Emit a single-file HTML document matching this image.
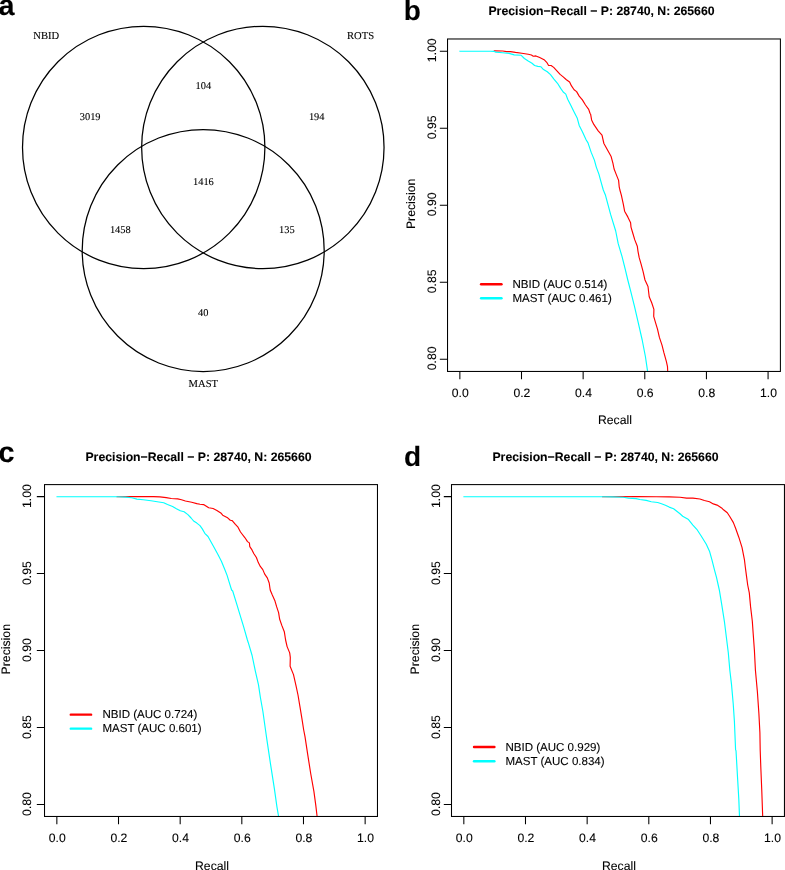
<!DOCTYPE html>
<html lang="en">
<head>
<meta charset="utf-8">
<title>Figure</title>
<style>
html,body{margin:0;padding:0;background:#fff;}
body{width:785px;height:870px;overflow:hidden;}
svg{display:block;}
text{white-space:pre;text-rendering:geometricPrecision;stroke:#000;stroke-width:0.1px;stroke-linejoin:round;}
</style>
</head>
<body>
<svg width="785" height="870" viewBox="0 0 785 870">
<rect width="785" height="870" fill="#fff"/>
<g id="venn" fill="none" stroke="#000" stroke-width="1.25">
<circle cx="143.7" cy="147.45" r="121.2"/>
<circle cx="262.85" cy="147.45" r="121.2"/>
<circle cx="203.2" cy="250.5" r="121.0"/>
</g>
<g id="venn-labels" font-family="'Liberation Serif', serif" font-size="10.4px" fill="#000" text-anchor="middle">
<text x="46.2" y="38.5" font-size="10.6px">NBID</text>
<text x="360.5" y="38.5" font-size="10.6px">ROTS</text>
<text x="203.3" y="387.3" font-size="10.6px">MAST</text>
<text x="90.15" y="120.0">3019</text>
<text x="203.3" y="89.2">104</text>
<text x="316.7" y="120.0">194</text>
<text x="203.4" y="185.0">1416</text>
<text x="120.3" y="233.2">1458</text>
<text x="286.9" y="233.2">135</text>
<text x="203.3" y="315.9">40</text>
</g>
<g id="panel-letters" font-family="'Liberation Sans', sans-serif" font-weight="bold" fill="#000">
<text x="-1.6" y="15.45" font-size="28.8px">a</text>
<text x="403.8" y="19.7" font-size="28.0px">b</text>
<text x="-1.6" y="462.2" font-size="28.8px">c</text>
<text x="404.0" y="465.5" font-size="28.0px">d</text>
</g>
<g id="plot-b">
<g fill="none" stroke-width="1.15" stroke-linejoin="round" stroke-linecap="round">
<path stroke="#ff0000" d="M494.2,50.9 L502.7,51.0 L506.6,51.6 L510.4,51.6 L515.5,52.4 L521.8,53.2 L528.2,54.3 L531.4,55.0 L533.3,56.2 L535.9,55.9 L539.7,57.6 L544.1,59.7 L546.7,62.3 L548.6,65.5 L551.1,65.5 L553.7,67.4 L556.9,70.8 L560.1,74.4 L563.2,76.9 L566.4,79.7 L569.6,82.0 L571.5,85.9 L574.1,89.7 L576.6,91.6 L579.2,96.1 L582.4,99.9 L585.5,105.0 L588.7,109.4 L590.0,113.2 L590.6,114.2 L591.6,119.9 L593.8,124.4 L598.2,130.8 L602.0,135.2 L603.9,143.5 L607.1,149.2 L611.0,156.2 L612.9,163.2 L614.1,169.0 L616.1,174.1 L618.6,180.4 L619.2,186.8 L619.9,190.0 L621.4,195.3 L623.3,204.2 L624.6,211.2 L627.8,216.9 L630.6,222.7 L631.0,227.1 L632.9,233.5 L634.8,239.9 L637.3,246.2 L638.0,251.3 L639.2,257.7 L641.1,264.1 L643.1,271.7 L645.0,280.0 L648.0,286.5 L649.2,296.7 L651.8,303.0 L653.9,309.4 L653.7,316.4 L655.6,322.8 L657.5,329.1 L659.4,337.4 L662.0,345.1 L663.9,352.7 L666.4,361.6 L667.5,366.7 L667.7,371.4"/>
<path stroke="#00ffff" d="M459.9,51.2 L490.0,51.3 L493.8,51.3 L495.7,52.1 L502.7,52.7 L509.1,53.4 L514.2,54.9 L521.2,55.3 L524.4,58.5 L528.2,61.0 L532.0,63.2 L534.6,65.5 L537.8,66.4 L541.0,66.8 L543.5,69.6 L547.3,71.8 L550.5,74.6 L553.7,78.9 L557.5,83.3 L560.7,88.4 L563.2,92.0 L565.8,94.1 L567.7,99.2 L570.9,105.6 L574.1,112.0 L577.3,118.3 L579.2,125.4 L582.4,131.7 L586.2,140.0 L588.0,142.9 L591.2,152.4 L594.4,160.1 L596.3,167.1 L598.9,174.1 L600.8,181.1 L603.3,190.0 L605.5,195.3 L610.6,214.4 L615.7,231.0 L618.2,243.7 L622.0,256.4 L625.2,269.2 L627.8,280.0 L630.8,291.6 L634.6,306.8 L638.4,323.4 L642.2,340.0 L645.4,356.5 L647.6,371.4"/>
</g>
<g fill="none" stroke="#000" stroke-width="1.05">
<rect x="447.53" y="38.98" width="332.87" height="332.47"/>
<path d="M459.86,371.45 v7.7 M521.50,371.45 v7.7 M583.14,371.45 v7.7 M644.79,371.45 v7.7 M706.43,371.45 v7.7 M768.07,371.45 v7.7 M447.53,51.15 h-7.7 M447.53,128.19 h-7.7 M447.53,205.23 h-7.7 M447.53,282.26 h-7.7 M447.53,359.30 h-7.7"/>
</g>
<g stroke-width="2.4" stroke-linecap="round">
<line x1="481.10" y1="284.25" x2="501.50" y2="284.25" stroke="#ff0000"/>
<line x1="481.10" y1="298.25" x2="501.50" y2="298.25" stroke="#00ffff"/>
</g>
<g font-family="'Liberation Sans', sans-serif" font-size="11.55px" fill="#000">
<text x="512.5" y="288.0">NBID (AUC 0.514)</text>
<text x="512.5" y="302.0">MAST (AUC 0.461)</text>
</g>
<g font-family="'Liberation Sans', sans-serif" font-size="12.2px" fill="#000" text-anchor="middle">
<text x="460.26" y="396.8">0.0</text>
<text x="521.90" y="396.8">0.2</text>
<text x="583.54" y="396.8">0.4</text>
<text x="645.19" y="396.8">0.6</text>
<text x="706.83" y="396.8">0.8</text>
<text x="768.47" y="396.8">1.0</text>
<text transform="translate(436.2,50.25) rotate(-90)" font-size="12.25px">1.00</text>
<text transform="translate(436.2,127.29) rotate(-90)" font-size="12.25px">0.95</text>
<text transform="translate(436.2,204.33) rotate(-90)" font-size="12.25px">0.90</text>
<text transform="translate(436.2,281.36) rotate(-90)" font-size="12.25px">0.85</text>
<text transform="translate(436.2,358.40) rotate(-90)" font-size="12.25px">0.80</text>
<text x="614.96" y="424.3">Recall</text>
<text transform="translate(414.5,203.91) rotate(-90)" font-size="12.25px">Precision</text>
</g>
<text x="601.5" y="15.3" font-family="'Liberation Sans', sans-serif" font-size="12.25px" font-weight="bold" fill="#000" text-anchor="middle">Precision&#8722;Recall &#8722; P: 28740, N: 265660</text>
</g>
<g id="plot-c">
<g fill="none" stroke-width="1.15" stroke-linejoin="round" stroke-linecap="round">
<path stroke="#ff0000" d="M117.0,496.7 L131.8,496.6 L142.0,496.6 L153.5,496.6 L159.9,496.9 L166.2,497.6 L171.3,498.5 L177.7,498.9 L181.5,499.7 L185.4,501.0 L191.7,502.3 L196.8,503.6 L200.0,504.2 L203.6,504.6 L208.7,507.8 L213.1,508.5 L216.9,510.4 L220.8,512.9 L222.7,515.2 L227.1,517.4 L230.3,520.3 L232.2,520.6 L235.4,524.4 L238.0,527.2 L240.5,532.0 L245.0,537.8 L247.5,541.6 L249.4,542.9 L249.8,546.7 L252.0,549.9 L253.9,553.7 L256.4,557.5 L258.3,562.6 L260.3,566.4 L262.8,569.6 L264.7,574.1 L267.3,577.9 L269.2,583.0 L270.2,590.0 L272.2,594.8 L275.0,601.1 L276.7,606.9 L278.6,612.6 L279.6,619.0 L281.8,625.4 L284.3,631.7 L285.6,640.0 L287.1,646.6 L289.7,652.9 L290.3,657.4 L290.1,666.3 L293.5,674.6 L296.1,686.1 L298.0,695.0 L299.9,706.4 L301.8,717.9 L303.7,730.0 L305.0,736.6 L307.5,753.1 L310.7,773.5 L313.9,791.3 L315.8,805.4 L317.1,816.5"/>
<path stroke="#00ffff" d="M56.9,496.7 L100.0,496.7 L117.8,496.7 L125.5,497.1 L131.8,497.8 L136.9,499.1 L143.3,499.7 L151.0,500.8 L157.3,501.7 L163.7,502.7 L167.5,504.5 L172.6,506.5 L176.4,508.7 L180.3,510.8 L184.1,511.8 L187.9,514.6 L191.1,518.0 L193.6,521.0 L196.8,523.1 L200.0,525.6 L202.3,528.9 L204.8,533.3 L208.0,536.5 L211.2,542.2 L214.4,548.0 L218.2,555.0 L221.4,561.3 L224.6,569.0 L227.1,575.4 L229.0,581.7 L231.6,590.0 L232.7,591.0 L236.6,603.7 L239.7,613.9 L243.6,626.6 L247.4,640.0 L248.3,642.7 L252.1,655.5 L255.3,670.8 L258.5,684.8 L260.4,697.5 L262.9,711.5 L265.5,730.0 L266.8,739.1 L270.6,764.6 L274.4,788.8 L276.9,806.6 L278.6,816.5"/>
</g>
<g fill="none" stroke="#000" stroke-width="1.05">
<rect x="44.52" y="484.6" width="332.95" height="331.87"/>
<path d="M56.85,816.47 v7.7 M118.51,816.47 v7.7 M180.17,816.47 v7.7 M241.82,816.47 v7.7 M303.48,816.47 v7.7 M365.14,816.47 v7.7 M44.52,496.60 h-7.7 M44.52,573.58 h-7.7 M44.52,650.55 h-7.7 M44.52,727.52 h-7.7 M44.52,804.50 h-7.7"/>
</g>
<g stroke-width="2.4" stroke-linecap="round">
<line x1="70.80" y1="714.65" x2="91.10" y2="714.65" stroke="#ff0000"/>
<line x1="70.80" y1="728.65" x2="91.10" y2="728.65" stroke="#00ffff"/>
</g>
<g font-family="'Liberation Sans', sans-serif" font-size="11.55px" fill="#000">
<text x="102.4" y="718.0">NBID (AUC 0.724)</text>
<text x="102.4" y="732.0">MAST (AUC 0.601)</text>
</g>
<g font-family="'Liberation Sans', sans-serif" font-size="12.2px" fill="#000" text-anchor="middle">
<text x="57.25" y="842.0">0.0</text>
<text x="118.91" y="842.0">0.2</text>
<text x="180.57" y="842.0">0.4</text>
<text x="242.22" y="842.0">0.6</text>
<text x="303.88" y="842.0">0.8</text>
<text x="365.54" y="842.0">1.0</text>
<text transform="translate(31.0,496.10) rotate(-90)" font-size="12.25px">1.00</text>
<text transform="translate(31.0,573.08) rotate(-90)" font-size="12.25px">0.95</text>
<text transform="translate(31.0,650.05) rotate(-90)" font-size="12.25px">0.90</text>
<text transform="translate(31.0,727.02) rotate(-90)" font-size="12.25px">0.85</text>
<text transform="translate(31.0,804.00) rotate(-90)" font-size="12.25px">0.80</text>
<text x="212.00" y="870.0">Recall</text>
<text transform="translate(10.0,649.24) rotate(-90)" font-size="12.25px">Precision</text>
</g>
<text x="198.5" y="460.5" font-family="'Liberation Sans', sans-serif" font-size="12.25px" font-weight="bold" fill="#000" text-anchor="middle">Precision&#8722;Recall &#8722; P: 28740, N: 265660</text>
</g>
<g id="plot-d">
<g fill="none" stroke-width="1.15" stroke-linejoin="round" stroke-linecap="round">
<path stroke="#ff0000" d="M602.5,496.7 L637.3,496.6 L656.4,496.7 L669.2,496.9 L680.0,497.2 L686.6,498.1 L692.9,498.1 L699.9,499.0 L704.4,500.5 L709.5,501.8 L713.3,503.9 L717.1,505.1 L721.6,507.9 L723.5,509.8 L727.3,512.8 L729.9,516.8 L733.4,522.6 L735.6,528.3 L738.8,537.2 L742.0,547.4 L744.5,560.2 L745.4,567.8 L746.4,575.4 L747.7,585.0 L749.3,592.9 L750.6,606.9 L752.3,621.0 L753.2,633.7 L754.4,650.3 L755.4,670.0 L757.4,692.0 L758.9,713.7 L759.9,732.8 L760.2,750.0 L760.8,767.0 L761.8,791.2 L762.7,816.5"/>
<path stroke="#00ffff" d="M463.8,496.7 L580.0,496.7 L602.9,496.7 L611.8,496.9 L623.3,497.3 L628.4,498.1 L636.1,498.6 L639.9,499.5 L646.2,500.4 L651.3,501.7 L657.7,502.5 L661.5,503.8 L665.4,505.2 L669.2,507.1 L673.6,508.7 L676.8,511.2 L680.0,513.8 L682.7,516.2 L688.5,519.6 L692.9,525.1 L696.8,529.3 L701.2,536.0 L706.3,544.2 L709.5,551.2 L712.0,560.2 L714.6,570.4 L716.5,577.4 L718.2,585.0 L719.4,590.4 L721.9,605.7 L724.5,622.2 L726.4,637.5 L728.3,652.8 L729.8,670.0 L731.5,684.4 L733.2,703.5 L734.4,721.3 L735.6,750.0 L736.0,750.5 L737.6,778.5 L738.8,798.9 L739.5,816.5"/>
</g>
<g fill="none" stroke="#000" stroke-width="1.05">
<rect x="451.5" y="484.6" width="332.95" height="331.87"/>
<path d="M463.83,816.47 v7.7 M525.49,816.47 v7.7 M587.15,816.47 v7.7 M648.80,816.47 v7.7 M710.46,816.47 v7.7 M772.12,816.47 v7.7 M451.5,496.60 h-7.7 M451.5,573.58 h-7.7 M451.5,650.55 h-7.7 M451.5,727.52 h-7.7 M451.5,804.50 h-7.7"/>
</g>
<g stroke-width="2.4" stroke-linecap="round">
<line x1="474.00" y1="747.05" x2="494.40" y2="747.05" stroke="#ff0000"/>
<line x1="474.00" y1="761.2" x2="494.40" y2="761.2" stroke="#00ffff"/>
</g>
<g font-family="'Liberation Sans', sans-serif" font-size="11.55px" fill="#000">
<text x="505.4" y="751.0">NBID (AUC 0.929)</text>
<text x="505.4" y="765.0">MAST (AUC 0.834)</text>
</g>
<g font-family="'Liberation Sans', sans-serif" font-size="12.2px" fill="#000" text-anchor="middle">
<text x="464.23" y="842.0">0.0</text>
<text x="525.89" y="842.0">0.2</text>
<text x="587.55" y="842.0">0.4</text>
<text x="649.20" y="842.0">0.6</text>
<text x="710.86" y="842.0">0.8</text>
<text x="772.52" y="842.0">1.0</text>
<text transform="translate(440.3,496.10) rotate(-90)" font-size="12.25px">1.00</text>
<text transform="translate(440.3,573.08) rotate(-90)" font-size="12.25px">0.95</text>
<text transform="translate(440.3,650.05) rotate(-90)" font-size="12.25px">0.90</text>
<text transform="translate(440.3,727.02) rotate(-90)" font-size="12.25px">0.85</text>
<text transform="translate(440.3,804.00) rotate(-90)" font-size="12.25px">0.80</text>
<text x="618.98" y="869.8">Recall</text>
<text transform="translate(418.8,649.24) rotate(-90)" font-size="12.25px">Precision</text>
</g>
<text x="605.5" y="460.5" font-family="'Liberation Sans', sans-serif" font-size="12.25px" font-weight="bold" fill="#000" text-anchor="middle">Precision&#8722;Recall &#8722; P: 28740, N: 265660</text>
</g>
</svg>
</body>
</html>
